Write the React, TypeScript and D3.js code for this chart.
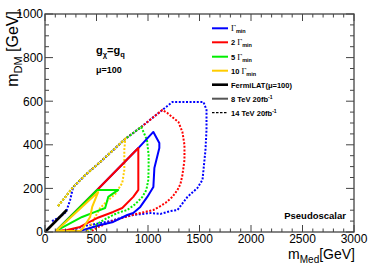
import * as d3 from "d3";

// axis ticks
const xMajor = [0, 500, 1000, 1500, 2000, 2500, 3000];
const yMajor = [0, 200, 400, 600, 800, 1000];

// shared upper edge of the 14 TeV contours
const envelope: [number, number][] = [
  [127, 119], [205, 165], [273, 206], [390, 261], [536, 321], [653, 372],
  [779, 427], [935, 482], [1042, 523], [1140, 560],
];

const blue14: [number, number][] = [
  [68, 50], [146, 69], [205, 92], [244, 147], [273, 206],
  ...envelope.slice(3),
  [1188, 578], [1237, 596], [1539, 596], [1568, 560], [1568, 468], [1558, 376],
  [1529, 239], [1480, 202], [1383, 161], [1286, 101], [1217, 96], [1120, 83],
  [1023, 87], [857, 78], [730, 64], [633, 50], [536, 41], [390, 28], [292, 14], [224, 0],
];
const red14: [number, number][] = [
  ...envelope,
  [1188, 546], [1247, 523], [1295, 505], [1334, 459], [1354, 399], [1354, 330],
  [1334, 261], [1315, 220], [1286, 193], [1237, 161], [1169, 133], [1120, 119],
  [1052, 101], [925, 87], [779, 69], [633, 46], [516, 23], [438, 0],
];
const green14: [number, number][] = [
  ...envelope.slice(0, 8),
  [990, 422], [1006, 353], [1006, 298], [1003, 239], [984, 193], [945, 161],
  [877, 128], [799, 101], [701, 87], [604, 64], [536, 46], [468, 23], [419, 0],
];
const orange14: [number, number][] = [
  ...envelope.slice(0, 7),
  [770, 376], [770, 284], [750, 225], [682, 174], [604, 142], [536, 110],
  [487, 69], [438, 23], [399, 0],
];

const blue8: [number, number][] = [
  [107, 5], [506, 193], [906, 385], [1052, 459], [1110, 408], [1110, 385],
  [1062, 294], [1052, 206], [993, 161], [925, 115], [857, 87], [799, 78],
  [662, 46], [536, 32], [438, 18], [341, 5], [107, 5],
];
const red8: [number, number][] = [
  [107, 5], [506, 193], [906, 385], [906, 193], [857, 161], [750, 110],
  [662, 92], [506, 64], [409, 41], [341, 23], [214, 9], [107, 5],
];
const green8: [number, number][] = [
  [107, 5], [506, 193], [711, 193], [614, 161], [584, 110], [506, 96],
  [360, 69], [107, 5],
];
const orange8: [number, number][] = [
  [107, 5], [516, 183], [458, 115], [438, 69], [370, 18], [341, 5], [107, 5],
];
const fermi: [number, number][] = [[0, 0], [211, 101]];

const legendLabels = ["", "2 ", "5 ", "10 "];
const legendColors = ["#0000ff", "#ff0000", "#00ee00", "#ffcc00"];

export default function App() {
  const width = 374;
  const height = 268;
  const x = d3.scaleLinear().domain([0, 3000]).range([45, 354]);
  const y = d3.scaleLinear().domain([0, 1000]).range([232, 14]);
  const line = d3
    .line<[number, number]>()
    .x((d) => x(d[0]))
    .y((d) => y(d[1]));

  const xMinor = d3.range(0, 3001, 100);
  const yMinor = d3.range(0, 1001, 50);
  const axisColor = "#444";
  const font = "'Liberation Sans', Arial, sans-serif";

  const dotted = (d: [number, number][], c: string) => (
    <path d={line(d)!} fill="none" stroke={c} strokeWidth={2} strokeDasharray="2,1.6" />
  );
  const solid = (d: [number, number][], c: string, w = 2) => (
    <path d={line(d)!} fill="none" stroke={c} strokeWidth={w} strokeLinejoin="round" />
  );

  const legY = [28.3, 42.3, 56.7, 70.7, 84.7, 98.7, 112.7];

  return (
    <svg width={width} height={height} style={{ position: "absolute", left: 0, top: 0 }} fontFamily={font}>
      <rect width={width} height={height} fill="#fff" />

      {/* curves */}
      {dotted(blue14, "#0000ff")}
      {dotted(red14, "#ff0000")}
      {dotted(green14, "#00ee00")}
      {dotted(orange14, "#ffcc00")}
      {solid(blue8, "#0000ff")}
      {solid(red8, "#ff0000")}
      {solid(green8, "#00ee00")}
      {solid(orange8, "#ffcc00")}
      {solid(fermi, "#000", 2.6)}

      {/* frame */}
      <rect x={45} y={14} width={309} height={218} fill="none" stroke={axisColor} strokeWidth={1.3} />
      {xMinor.map((v) => {
        const major = v % 500 === 0;
        const l = major ? 7 : 3.5;
        return (
          <g key={"x" + v}>
            <line x1={x(v)} x2={x(v)} y1={232} y2={232 - l} stroke={axisColor} />
            <line x1={x(v)} x2={x(v)} y1={14} y2={14 + l} stroke={axisColor} />
          </g>
        );
      })}
      {yMinor.map((v) => {
        const major = v % 200 === 0;
        const l = major ? 8 : 4;
        return (
          <g key={"y" + v}>
            <line x1={45} x2={45 + l} y1={y(v)} y2={y(v)} stroke={axisColor} />
            <line x1={354} x2={354 - l} y1={y(v)} y2={y(v)} stroke={axisColor} />
          </g>
        );
      })}
      {xMajor.map((v) => (
        <text key={"xl" + v} x={x(v)} y={243} fontSize={12} textAnchor="middle">{v}</text>
      ))}
      {yMajor.map((v) => (
        <text key={"yl" + v} x={43} y={y(v) + 4.3} fontSize={12} textAnchor="end">{v}</text>
      ))}

      {/* axis titles */}
      <text x={355} y={259} fontSize={14} textAnchor="end">
        m<tspan fontSize={10} dy={3.5}>Med</tspan><tspan dy={-3.5}>[GeV]</tspan>
      </text>
      <text transform="translate(18,11) rotate(-90)" fontSize={16} textAnchor="end">
        m<tspan fontSize={11} dy={4}>DM</tspan><tspan dy={-4}> [GeV]</tspan>
      </text>

      {/* annotations */}
      <text x={96} y={54} fontSize={11} fontWeight="bold">
        g<tspan fontSize={7.5} dy={3}>χ</tspan><tspan dy={-3}>=g</tspan><tspan fontSize={7.5} dy={3}>q</tspan>
      </text>
      <text x={96} y={72.5} fontSize={9} fontWeight="bold">μ=100</text>
      <text x={346} y={219} fontSize={9.5} fontWeight="bold" textAnchor="end">Pseudoscalar</text>

      {/* legend */}
      {legendLabels.map((lab, i) => (
        <g key={"leg" + i}>
          <line x1={212} x2={228} y1={legY[i]} y2={legY[i]} stroke={legendColors[i]} strokeWidth={2} />
          <text x={231} y={legY[i] + 3} fontSize={7.5} fontWeight="bold">
            {lab}
            <tspan fontFamily="'Liberation Serif', serif" fontWeight="normal" fontSize={8.5}>Γ</tspan>
            <tspan fontSize={5.5} dy={2}>min</tspan>
          </text>
        </g>
      ))}
      <line x1={212} x2={228} y1={legY[4]} y2={legY[4]} stroke="#000" strokeWidth={2.6} />
      <text x={231} y={legY[4] + 3} fontSize={7.5} fontWeight="bold">FermiLAT(μ=100)</text>
      <line x1={212} x2={228} y1={legY[5]} y2={legY[5]} stroke="#555" strokeWidth={2} />
      <text x={231} y={legY[5] + 3} fontSize={7.5} fontWeight="bold">
        8 TeV  20fb<tspan fontSize={5} dy={-3}>-1</tspan>
      </text>
      <line x1={212} x2={228} y1={legY[6]} y2={legY[6]} stroke="#000" strokeWidth={1.3} strokeDasharray="2.5,1.5" />
      <text x={231} y={legY[6] + 3} fontSize={7.5} fontWeight="bold">
        14 TeV 20fb<tspan fontSize={5} dy={-3}>-1</tspan>
      </text>
    </svg>
  );
}
